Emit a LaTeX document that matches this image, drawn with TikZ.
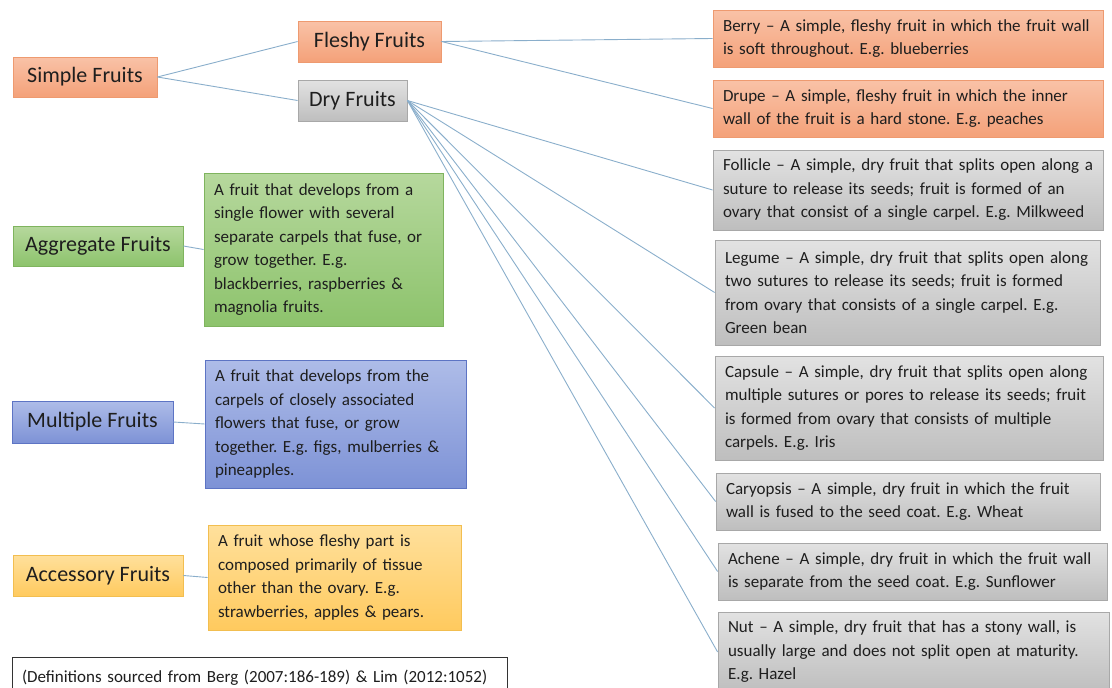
\documentclass[tikz,border=0pt]{standalone}
\usepackage{fontspec}
\setmainfont{Carlito}
\definecolor{txt}{HTML}{1E1E1E}
\definecolor{lnk}{HTML}{8AAECB}
\definecolor{orT}{HTML}{F9C2A7}\definecolor{orB}{HTML}{F4A179}\definecolor{orD}{HTML}{EE9A70}
\definecolor{grT}{HTML}{E2E2E2}\definecolor{grB}{HTML}{BEBEBE}\definecolor{grD}{HTML}{A8A8A8}
\definecolor{gnT}{HTML}{B6D89D}\definecolor{gnB}{HTML}{8DC36C}\definecolor{gnD}{HTML}{7FB45E}
\definecolor{blT}{HTML}{AEBCE8}\definecolor{blB}{HTML}{7D92D6}\definecolor{blD}{HTML}{5D74C4}
\definecolor{ylT}{HTML}{FFE09C}\definecolor{ylB}{HTML}{FFCA5E}\definecolor{ylD}{HTML}{F2BE50}
\newcommand{\ml}[1]{\mbox{#1}}
\tikzset{
  box/.style={rectangle, draw, line width=0.8pt, text=txt, inner ysep=0pt, anchor=center},
  head/.style={box, font=\fontsize{22}{26}\selectfont, inner xsep=0pt},
  desc/.style={box, font=\fontsize{17}{23.5}\selectfont\frenchspacing, inner xsep=10pt, align=left},
  orange/.style={top color=orT, bottom color=orB, draw=orD},
  gray/.style={top color=grT, bottom color=grB, draw=grD},
  green/.style={top color=gnT, bottom color=gnB, draw=gnD},
  blue/.style={top color=blT, bottom color=blB, draw=blD},
  yellow/.style={top color=ylT, bottom color=ylB, draw=ylD},
  link/.style={draw=lnk, line width=0.9pt},
}
\begin{document}
\begin{tikzpicture}[x=1pt,y=-1pt]
\useasboundingbox (0,0) rectangle (1112,688);
% headings
\node[head,orange,minimum width=144pt,minimum height=40pt] (simple) at (85,77) {Simple Fruits};
\node[head,orange,minimum width=143pt,minimum height=41pt] (fleshy) at (369.5,41.5) {Fleshy Fruits};
\node[head,gray,minimum width=109pt,minimum height=41pt] (dry) at (352.5,100.5) {Dry Fruits};
\node[head,green,minimum width=170pt,minimum height=40pt] (aggregate) at (98,246) {Aggregate Fruits};
\node[head,blue,minimum width=161pt,minimum height=42pt] (multiple) at (92.5,422) {Multiple Fruits};
\node[head,yellow,minimum width=170pt,minimum height=41pt] (accessory) at (98,575.5) {Accessory Fruits};
% left descriptions
\node[desc,green,text width=219pt,minimum height=153pt] (aggdesc) at (323.5,249.5)
 {\ml{A fruit that develops from a}\\\ml{single flower with several}\\\ml{separate carpels that fuse, or}\\\ml{grow together. E.g.}\\\ml{blackberries, raspberries \&}\\\ml{magnolia fruits.}};
\node[desc,blue,text width=241pt,minimum height=128pt] (muldesc) at (335.5,424)
 {\ml{A fruit that develops from the}\\\ml{carpels of closely associated}\\\ml{flowers that fuse, or grow}\\\ml{together. E.g. figs, mulberries \&}\\\ml{pineapples.}};
\node[desc,yellow,text width=233pt,minimum height=105pt] (accdesc) at (334.5,577.5)
 {\ml{A fruit whose fleshy part is}\\\ml{composed primarily of tissue}\\\ml{other than the ovary. E.g.}\\\ml{strawberries, apples \& pears.}};
% source
\node[desc,draw=black!80,line width=0.8pt,fill=white,text width=475pt,minimum height=41pt] (source) at (259.5,677.5)
 {\ml{(Definitions sourced from Berg (2007:186-189) \& Lim (2012:1052)}};
% right descriptions
\node[desc,orange,text width=370pt,minimum height=57pt] (berry) at (908,38.5)
 {\ml{Berry -- A simple, fleshy fruit in which the fruit wall}\\\ml{is soft throughout. E.g. blueberries}};
\node[desc,orange,text width=370pt,minimum height=57pt] (drupe) at (908,108.5)
 {\ml{Drupe -- A simple, fleshy fruit in which the inner}\\\ml{wall of the fruit is a hard stone. E.g. peaches}};
\node[desc,gray,text width=370pt,minimum height=80pt] (follicle) at (908,190)
 {\ml{Follicle -- A simple, dry fruit that splits open along a}\\\ml{suture to release its seeds; fruit is formed of an}\\\ml{ovary that consist of a single carpel. E.g. Milkweed}};
\node[desc,gray,text width=365pt,minimum height=105pt] (legume) at (907.5,292.5)
 {\ml{Legume -- A simple, dry fruit that splits open along}\\\ml{two sutures to release its seeds; fruit is formed}\\\ml{from ovary that consists of a single carpel. E.g.}\\\ml{Green bean}};
\node[desc,gray,text width=368pt,minimum height=104pt] (capsule) at (909,408)
 {\ml{Capsule -- A simple, dry fruit that splits open along}\\\ml{multiple sutures or pores to release its seeds; fruit}\\\ml{is formed from ovary that consists of multiple}\\\ml{carpels. E.g. Iris}};
\node[desc,gray,text width=364pt,minimum height=57pt] (caryopsis) at (908,501.5)
 {\ml{Caryopsis -- A simple, dry fruit in which the fruit}\\\ml{wall is fused to the seed coat. E.g. Wheat}};
\node[desc,gray,text width=369pt,minimum height=57pt] (achene) at (912.5,571.5)
 {\ml{Achene -- A simple, dry fruit in which the fruit wall}\\\ml{is separate from the seed coat. E.g. Sunflower}};
\node[desc,gray,text width=371pt,minimum height=80pt] (nut) at (913.5,652)
 {\ml{Nut -- A simple, dry fruit that has a stony wall, is}\\\ml{usually large and does not split open at maturity.}\\\ml{E.g. Hazel}};
% connectors
\draw[link] (simple.east) -- (fleshy.west);
\draw[link] (simple.east) -- (dry.west);
\draw[link] (fleshy.east) -- (berry.west);
\draw[link] (fleshy.east) -- (drupe.west);
\foreach \t in {follicle,legume,capsule,caryopsis,achene,nut}
  \draw[link] (dry.east) -- (\t.west);
\draw[link] (aggregate.east) -- (aggdesc.west);
\draw[link] (multiple.east) -- (muldesc.west);
\draw[link] (accessory.east) -- (accdesc.west);
\end{tikzpicture}
\end{document}
